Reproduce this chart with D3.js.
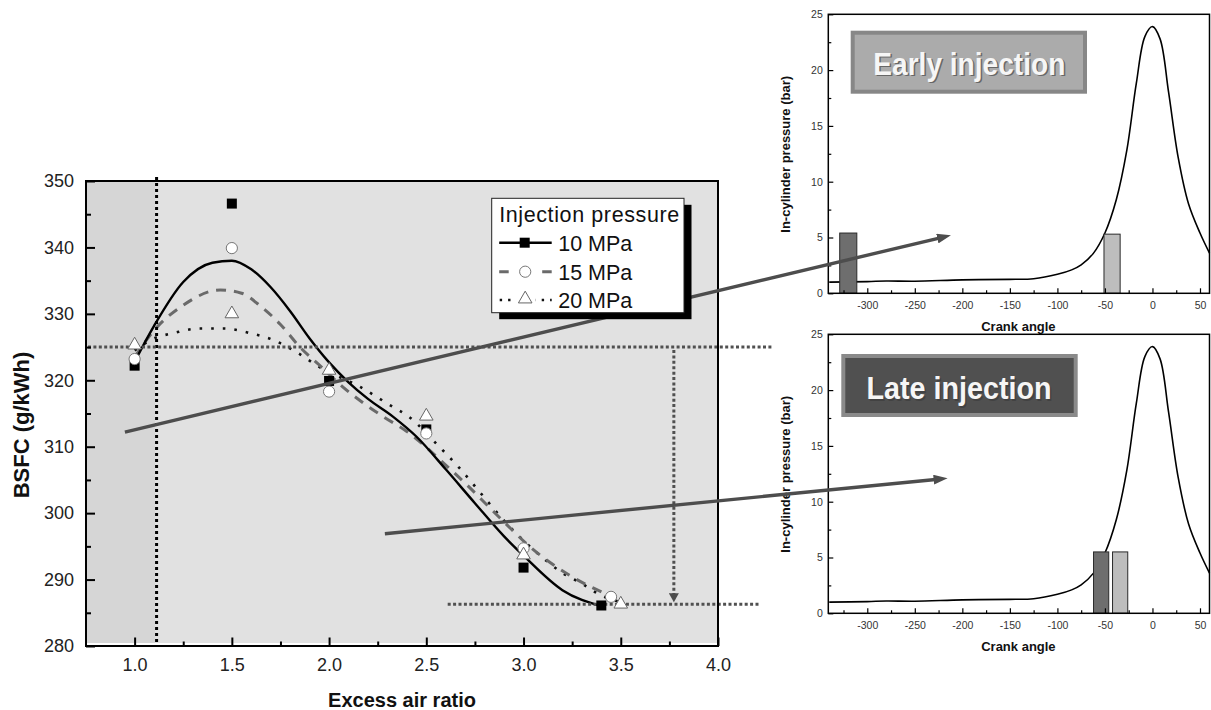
<!DOCTYPE html>
<html>
<head>
<meta charset="utf-8">
<script src="https://cdn.jsdelivr.net/npm/d3@7/dist/d3.min.js"></script>
<style>
  body { margin: 0; background: #fff; }
  svg { display: block; }
  text { font-family: "Liberation Sans", Arial, sans-serif; }
</style>
</head>
<body>
<svg width="1211" height="710"></svg>
<script>
// ---- main chart: BSFC vs excess air ratio ----
const lambdaTicks = [1.0, 1.5, 2.0, 2.5, 3.0, 3.5, 4.0];
const lambdaMinor = [1.25, 1.75, 2.25, 2.75, 3.25, 3.75];
const bsfcTicks = [280, 290, 300, 310, 320, 330, 340, 350];
const bsfcMinor = [285, 295, 305, 315, 325, 335, 345];

const seriesNames = ["10 MPa", "15 MPa", "20 MPa"];
const legendTitle = "Injection pressure";

// measured points
const lambda10 = [1.0, 1.5, 2.0, 2.5, 3.0, 3.4];
const bsfc10   = [322.2, 346.6, 319.9, 312.6, 291.8, 286.1];
const lambda15 = [1.0, 1.5, 2.0, 2.5, 3.0, 3.45];
const bsfc15   = [323.2, 339.9, 318.3, 312.0, 294.7, 287.4];
const lambda20 = [1.0, 1.5, 2.0, 2.5, 3.0, 3.5];
const bsfc20   = [325.3, 330.0, 321.5, 314.6, 293.7, 286.3];

// fitted curves
const fitLambda10 = [1.0, 1.1, 1.25, 1.4, 1.5, 1.6, 1.7, 1.8, 1.9, 2.0, 2.1, 2.2, 2.33, 2.45, 2.6, 2.75, 2.9, 3.0, 3.2, 3.4];
const fitBsfc10   = [322.8, 328.2, 334.8, 337.7, 338.0, 336.7, 334.0, 330.4, 326.3, 322.7, 319.7, 317.2, 314.5, 311.5, 306.6, 301.5, 296.5, 293.6, 288.4, 286.0];
const fitLambda15 = [1.0, 1.1, 1.25, 1.44, 1.55, 1.65, 1.75, 1.85, 1.95, 2.07, 2.18, 2.28, 2.4, 2.59, 2.7, 2.83, 2.94, 3.03, 3.14, 3.25, 3.36, 3.45];
const fitBsfc15   = [323.5, 327.5, 331.3, 333.6, 333.1, 331.1, 328.4, 325.0, 322.3, 319.0, 316.5, 314.5, 312.3, 307.5, 304.5, 300.7, 297.5, 295.0, 292.5, 290.4, 288.7, 287.5];
const fitLambda20 = [1.0, 1.1, 1.2, 1.33, 1.46, 1.58, 1.71, 1.84, 1.95, 2.16, 2.3, 2.42, 2.55, 2.67, 2.78, 2.89, 3.07, 3.2, 3.3, 3.4, 3.5];
const fitBsfc20   = [324.5, 326.3, 327.1, 327.8, 327.8, 327.2, 326.1, 324.1, 322.0, 319.0, 316.5, 314.3, 310.5, 306.8, 303.0, 299.2, 294.0, 291.0, 289.4, 287.6, 286.6];

// guide lines
const leanLimit = 1.113;
const refBsfc = 325;
const refLambda = 3.773;
const bestBsfc = 286.3;
const bestFrom = 2.61;
const refLineEnd = 4.28;
const bestLineEnd = 4.215;
const bandEnd = 1.105;

// ---- insets: in-cylinder pressure vs crank angle ----
const crankTicks = [-300, -250, -200, -150, -100, -50, 0, 50];
const crankMinor = [-325, -275, -225, -175, -125, -75, -25, 25];
const pressureTicks = [0, 5, 10, 15, 20, 25];
const pressureMinor = [2.5, 7.5, 12.5, 17.5, 22.5];
const crankAngle  = [-340, -300, -280, -250, -200, -150, -125, -100, -85, -75, -62, -50, -38, -27, -17, -8, 0, 8, 17, 27, 38, 50, 60];
const cylPressure = [1.0, 1.05, 1.1, 1.08, 1.2, 1.25, 1.3, 1.7, 2.1, 2.55, 3.6, 5.4, 8.4, 12.8, 18.8, 23.0, 23.9, 22.8, 18.0, 12.2, 8.0, 5.4, 3.6];
const earlyFrom = [-329, -51], earlyTo = [-311, -34], earlyHeight = [5.4, 5.3];
const lateFrom = [-62, -42], lateTo = [-46, -26], lateHeight = [5.5, 5.5];
const insetTitles = ["Early injection", "Late injection"];

// arrows: main [lambda, bsfc] -> inset [crank, pressure]
const arrowFrom = [[0.95, 312.2], [2.287, 296.9]];
const arrowTo = [[-212, 5.2], [-215.5, 12.1]];

const svg = d3.select("svg");
const defs = svg.append("defs");

defs.append("marker")
  .attr("id", "headGray")
  .attr("markerUnits", "userSpaceOnUse")
  .attr("markerWidth", 14).attr("markerHeight", 10)
  .attr("refX", 2).attr("refY", 5)
  .attr("orient", "auto")
  .append("path").attr("d", "M0,0 L14,5 L0,10 Z").attr("fill", "#4d4d4d");

defs.append("marker")
  .attr("id", "headDown")
  .attr("markerUnits", "userSpaceOnUse")
  .attr("markerWidth", 10).attr("markerHeight", 10)
  .attr("refX", 1).attr("refY", 5)
  .attr("orient", "auto")
  .append("path").attr("d", "M0,0 L9,5 L0,10 Z").attr("fill", "#4d4d4d");

const main = { left: 86, right: 718, top: 181, bottom: 646 };
const x = d3.scaleLinear().domain([0.75, 4.0]).range([main.left, main.right]);
const y = d3.scaleLinear().domain([280, 350]).range([main.bottom, main.top]);

defs.append("clipPath").attr("id", "plotClip")
  .append("rect")
  .attr("x", main.left).attr("y", main.top)
  .attr("width", main.right - main.left).attr("height", main.bottom - main.top);

const gMain = svg.append("g");

// backgrounds
gMain.append("rect")
  .attr("x", main.left).attr("y", main.top)
  .attr("width", main.right - main.left).attr("height", main.bottom - main.top - 3)
  .attr("fill", "#e1e1e1");
gMain.append("rect")
  .attr("x", x(0.75)).attr("y", main.top)
  .attr("width", x(bandEnd) - x(0.75)).attr("height", main.bottom - main.top - 3)
  .attr("fill", "#d6d6d6");

// fitted curves
const line = d3.line()
  .x(d => x(d[0])).y(d => y(d[1]))
  .curve(d3.curveMonotoneX);

const curves = gMain.append("g").attr("clip-path", "url(#plotClip)");
curves.append("path").datum(d3.zip(fitLambda20, fitBsfc20))
  .attr("d", line).attr("fill", "none")
  .attr("stroke", "#111").attr("stroke-width", 2.6)
  .attr("stroke-dasharray", "2.6,9").attr("stroke-linecap", "butt");
curves.append("path").datum(d3.zip(fitLambda15, fitBsfc15))
  .attr("d", line).attr("fill", "none")
  .attr("stroke", "#6a6a6a").attr("stroke-width", 3)
  .attr("stroke-dasharray", "10,8");
curves.append("path").datum(d3.zip(fitLambda10, fitBsfc10))
  .attr("d", line).attr("fill", "none")
  .attr("stroke", "#000").attr("stroke-width", 2.4);

// guide lines
gMain.append("line")
  .attr("x1", x(leanLimit)).attr("x2", x(leanLimit))
  .attr("y1", main.top - 4).attr("y2", main.bottom)
  .attr("stroke", "#000").attr("stroke-width", 3).attr("stroke-dasharray", "3,3");

gMain.append("line")
  .attr("x1", x(0.75) + 2).attr("x2", x(refLineEnd))
  .attr("y1", y(refBsfc)).attr("y2", y(refBsfc))
  .attr("stroke", "#505050").attr("stroke-width", 3).attr("stroke-dasharray", "3,2.4");

gMain.append("line")
  .attr("x1", x(bestFrom)).attr("x2", x(bestLineEnd))
  .attr("y1", y(bestBsfc)).attr("y2", y(bestBsfc))
  .attr("stroke", "#505050").attr("stroke-width", 3).attr("stroke-dasharray", "3,2.4");

gMain.append("line")
  .attr("x1", x(refLambda)).attr("x2", x(refLambda))
  .attr("y1", y(refBsfc) + 3).attr("y2", y(bestBsfc) - 10)
  .attr("stroke", "#505050").attr("stroke-width", 3).attr("stroke-dasharray", "3,2.4")
  .attr("marker-end", "url(#headDown)");

// markers
const triangle = d3.symbol(d3.symbolTriangle, 80);
const drawSquare = (g, cx, cy) => g.append("rect")
  .attr("x", cx - 5).attr("y", cy - 5).attr("width", 10).attr("height", 10).attr("fill", "#000");
const drawCircle = (g, cx, cy) => g.append("circle")
  .attr("cx", cx).attr("cy", cy).attr("r", 5.6)
  .attr("fill", "#fff").attr("stroke", "#777").attr("stroke-width", 1);
const drawTriangle = (g, cx, cy) => g.append("path")
  .attr("d", triangle).attr("transform", `translate(${cx},${cy})`)
  .attr("fill", "#fff").attr("stroke", "#666").attr("stroke-width", 1);

const pts = gMain.append("g");
lambda10.forEach((v, i) => drawSquare(pts, x(v), y(bsfc10[i])));
lambda15.forEach((v, i) => drawCircle(pts, x(v), y(bsfc15[i])));
lambda20.forEach((v, i) => drawTriangle(pts, x(v), y(bsfc20[i])));

// frame
gMain.append("rect")
  .attr("x", main.left).attr("y", main.top)
  .attr("width", main.right - main.left).attr("height", main.bottom - main.top)
  .attr("fill", "none").attr("stroke", "#000").attr("stroke-width", 2);

// axes
const styleAxis = (g, size) => {
  g.select(".domain").remove();
  g.selectAll(".tick line").attr("stroke", "#000").attr("stroke-width", 2);
  g.selectAll(".tick text").attr("fill", "#222").attr("font-size", size)
    .attr("font-family", "Liberation Sans, Arial, sans-serif");
};

gMain.append("g").attr("transform", `translate(0,${main.bottom})`)
  .call(d3.axisBottom(x).tickValues(lambdaTicks).tickFormat(d3.format(".1f")).tickSize(-8.5).tickPadding(12))
  .call(g => styleAxis(g, 18));
gMain.append("g").attr("transform", `translate(0,${main.bottom})`)
  .call(d3.axisBottom(x).tickValues(lambdaMinor).tickFormat("").tickSize(-4.5))
  .call(g => styleAxis(g, 18));
gMain.append("g").attr("transform", `translate(${main.left},0)`)
  .call(d3.axisLeft(y).tickValues(bsfcTicks).tickSize(-9).tickPadding(12))
  .call(g => styleAxis(g, 18));
gMain.append("g").attr("transform", `translate(${main.left},0)`)
  .call(d3.axisLeft(y).tickValues(bsfcMinor).tickFormat("").tickSize(-5))
  .call(g => styleAxis(g, 18));

gMain.append("text")
  .attr("transform", "translate(29,425) rotate(-90)")
  .attr("text-anchor", "middle")
  .attr("font-size", 22).attr("font-weight", "bold").attr("fill", "#111")
  .text("BSFC (g/kWh)");
gMain.append("text")
  .attr("x", (main.left + main.right) / 2).attr("y", 707)
  .attr("text-anchor", "middle")
  .attr("font-size", 20).attr("font-weight", "bold").attr("fill", "#111")
  .text("Excess air ratio");

// ---- insets ----
const insetBoxes = [
  { left: 828.3, right: 1209.5, top: 14.3, bottom: 293.3 },
  { left: 828.3, right: 1209.5, top: 334.3, bottom: 613.3 }
];
const insetBars = [
  { from: earlyFrom, to: earlyTo, h: earlyHeight },
  { from: lateFrom, to: lateTo, h: lateHeight }
];
const labelBoxes = [
  { x: 24.4, y: 18.4, w: 232.3, h: 59, fill: "#ababab", stroke: "#878787", tx: 141, ty: 60.5, tw: 192 },
  { x: 15, y: 21.7, w: 232.4, h: 59, fill: "#505050", stroke: "#8a8a8a", tx: 130.7, ty: 65, tw: 185 }
];
const barFills = ["#6e6e6e", "#bdbdbd"];
const insetScales = [];

insetBoxes.forEach((b, i) => {
  const ix = d3.scaleLinear().domain([-341, 60]).range([b.left, b.right]);
  const iy = d3.scaleLinear().domain([0, 25]).range([b.bottom, b.top]);
  insetScales.push([ix, iy]);
  const g = svg.append("g");

  const pLine = d3.line().x(d => ix(d[0])).y(d => iy(d[1])).curve(d3.curveCatmullRom.alpha(0.5));
  g.append("path").datum(d3.zip(crankAngle, cylPressure))
    .attr("d", pLine).attr("fill", "none").attr("stroke", "#000").attr("stroke-width", 1.6);

  const bars = insetBars[i];
  bars.from.forEach((f, k) => {
    g.append("rect")
      .attr("x", ix(f)).attr("y", iy(bars.h[k]))
      .attr("width", ix(bars.to[k]) - ix(f)).attr("height", iy(0) - iy(bars.h[k]))
      .attr("fill", barFills[k]).attr("stroke", "#2a2a2a").attr("stroke-width", 1);
  });

  g.append("rect")
    .attr("x", b.left).attr("y", b.top)
    .attr("width", b.right - b.left).attr("height", b.bottom - b.top)
    .attr("fill", "none").attr("stroke", "#000").attr("stroke-width", 1.5);

  const styleInset = (a) => {
    a.select(".domain").remove();
    a.selectAll(".tick line").attr("stroke", "#000").attr("stroke-width", 1.2);
    a.selectAll(".tick text").attr("fill", "#333").attr("font-size", 10.5)
      .attr("font-family", "Liberation Sans, Arial, sans-serif");
  };
  const plain = d => String(d);
  g.append("g").attr("transform", `translate(0,${b.bottom})`)
    .call(d3.axisBottom(ix).tickValues(crankTicks).tickFormat(plain).tickSize(-5).tickPadding(8))
    .call(styleInset);
  g.append("g").attr("transform", `translate(0,${b.bottom})`)
    .call(d3.axisBottom(ix).tickValues(crankMinor).tickFormat("").tickSize(-3))
    .call(styleInset);
  g.append("g").attr("transform", `translate(${b.left},0)`)
    .call(d3.axisLeft(iy).tickValues(pressureTicks).tickFormat(plain).tickSize(-5).tickPadding(5.5))
    .call(styleInset);
  g.append("g").attr("transform", `translate(${b.left},0)`)
    .call(d3.axisLeft(iy).tickValues(pressureMinor).tickFormat("").tickSize(-3))
    .call(styleInset);

  g.append("text")
    .attr("x", (b.left + b.right) / 2 - 0.5).attr("y", b.bottom + 38)
    .attr("text-anchor", "middle").attr("font-size", 13).attr("font-weight", "bold").attr("fill", "#111")
    .text("Crank angle");
  g.append("text")
    .attr("transform", `translate(${b.left - 38},${(b.top + b.bottom) / 2 + 0.5}) rotate(-90)`)
    .attr("text-anchor", "middle").attr("font-size", 13).attr("font-weight", "bold").attr("fill", "#111")
    .text("In-cylinder pressure (bar)");

  // label box
  const lb = labelBoxes[i];
  g.append("rect")
    .attr("x", b.left + lb.x).attr("y", b.top + lb.y).attr("width", lb.w).attr("height", lb.h)
    .attr("fill", lb.fill).attr("stroke", lb.stroke).attr("stroke-width", 4);
  [["#3a3a3a", 1.5, 0.6], ["#f6f6f6", 0, 1]].forEach(([c, off, op]) => {
    g.append("text")
      .attr("x", b.left + lb.tx + off).attr("y", b.top + lb.ty + off)
      .attr("text-anchor", "middle")
      .attr("font-family", "DejaVu Sans Condensed, Liberation Sans Narrow, sans-serif")
      .attr("font-weight", "bold").attr("font-size", 32)
      .attr("textLength", lb.tw).attr("lengthAdjust", "spacingAndGlyphs")
      .attr("fill", c).attr("opacity", op)
      .text(insetTitles[i]);
  });
});

// arrows from main chart to insets
arrowFrom.forEach((p, i) => {
  const [ix, iy] = insetScales[i];
  const x1 = x(p[0]), y1 = y(p[1]);
  const x2 = ix(arrowTo[i][0]), y2 = iy(arrowTo[i][1]);
  const len = Math.hypot(x2 - x1, y2 - y1);
  const k = (len - 12) / len;
  svg.append("line")
    .attr("x1", x1).attr("y1", y1)
    .attr("x2", x1 + (x2 - x1) * k).attr("y2", y1 + (y2 - y1) * k)
    .attr("stroke", "#4d4d4d").attr("stroke-width", 3.4)
    .attr("marker-end", "url(#headGray)");
});

// legend (on top of arrow)
const lg = svg.append("g").attr("transform", "translate(491.7,198.3)");
lg.append("rect").attr("x", 7.5).attr("y", 6.5).attr("width", 192.3).attr("height", 114.4).attr("fill", "#000");
lg.append("rect").attr("x", 0).attr("y", 0).attr("width", 192.3).attr("height", 114.4)
  .attr("fill", "#fff").attr("stroke", "#222").attr("stroke-width", 1);
lg.append("text").attr("x", 7.5).attr("y", 24).attr("font-size", 21.5).attr("fill", "#111")
  .attr("textLength", 180).attr("lengthAdjust", "spacing")
  .text(legendTitle);

const rowY = [44.4, 73.4, 101.7];
seriesNames.forEach((name, i) => {
  const ry = rowY[i];
  if (i === 0) {
    lg.append("line").attr("x1", 7.5).attr("x2", 60).attr("y1", ry).attr("y2", ry)
      .attr("stroke", "#000").attr("stroke-width", 2.4);
    drawSquare(lg, 33, ry);
  } else if (i === 1) {
    lg.append("line").attr("x1", 7.5).attr("x2", 60).attr("y1", ry).attr("y2", ry)
      .attr("stroke", "#6a6a6a").attr("stroke-width", 3).attr("stroke-dasharray", "9.5,33.5");
    drawCircle(lg, 33.5, ry);
  } else {
    lg.append("line").attr("x1", 8).attr("x2", 60).attr("y1", ry).attr("y2", ry)
      .attr("stroke", "#111").attr("stroke-width", 2.4).attr("stroke-dasharray", "2.4,6");
    lg.append("rect").attr("x", 24).attr("y", ry - 8).attr("width", 20).attr("height", 14).attr("fill", "#fff");
    drawTriangle(lg, 33.5, ry - 1);
  }
  lg.append("text").attr("x", 66.5).attr("y", ry + 8.3)
    .attr("font-size", 21.5).attr("fill", "#111").text(name);
});
</script>
</body>
</html>
